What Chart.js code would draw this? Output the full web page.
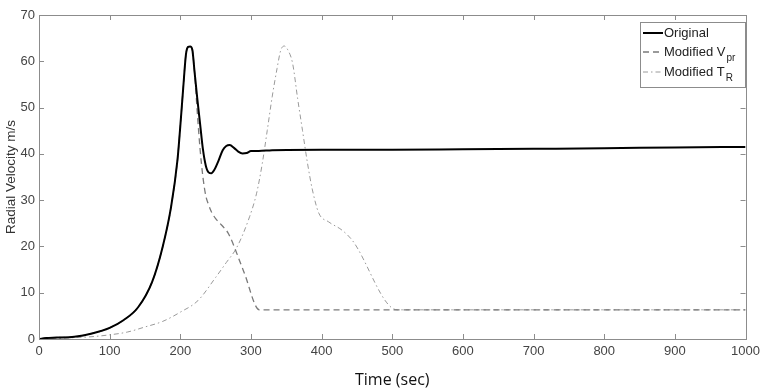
<!DOCTYPE html>
<html>
<head>
<meta charset="utf-8">
<script src="https://cdn.jsdelivr.net/npm/chart.js@4.4.1/dist/chart.umd.min.js"></script>
<style>
  body { margin: 0; background: #fff; }
</style>
</head>
<body>
<canvas id="velocityChart" width="765" height="390"></canvas>
<script>
// Values: time in sec, radial velocity in m/s
var timeOriginal = [0, 10, 25, 50, 75, 100, 120, 140, 160, 175, 187, 196, 200, 204, 208, 211, 214, 217, 220, 224, 228, 232, 236, 240, 244, 248, 254, 260, 265, 270, 276, 282, 288, 294, 300, 311, 330, 400, 500, 600, 700, 800, 900, 1000];
var velOriginal = [0, 0.2, 0.3, 0.5, 1.2, 2.4, 4.1, 6.8, 12.3, 19.9, 28.6, 38.7, 46, 54, 61.5, 63.1, 63.2, 62.5, 58, 52, 46.5, 41, 37.5, 36, 35.8, 36.5, 38.5, 40.8, 41.7, 41.9, 41.3, 40.5, 40.1, 40.2, 40.6, 40.6, 40.8, 40.9, 40.9, 41, 41.1, 41.2, 41.4, 41.5];

var timeModVpr = [0, 10, 25, 50, 75, 100, 120, 140, 160, 175, 187, 196, 200, 204, 208, 211, 214, 217, 220, 224, 228, 232, 236, 240, 244, 250, 256, 262, 268, 290, 312, 400, 500, 600, 700, 800, 900, 1000];
var velModVpr = [0, 0.2, 0.3, 0.5, 1.2, 2.4, 4.1, 6.8, 12.3, 19.9, 28.6, 38.7, 46, 54, 61.5, 63.1, 63.2, 62.5, 58, 49, 41, 35, 31, 29, 27.5, 26, 25, 24, 22.8, 14.5, 6.3, 6.3, 6.3, 6.3, 6.3, 6.3, 6.3, 6.3];

var timeModTr = [0, 25, 50, 75, 100, 125, 150, 175, 200, 225, 250, 265, 280, 298, 308, 316, 323, 330, 337, 342, 347, 352, 359, 366, 373, 380, 387, 396, 410, 429, 443, 507, 600, 700, 800, 900, 1000];
var velModTr = [0, 0.1, 0.3, 0.5, 0.9, 1.5, 2.6, 3.8, 5.8, 8.3, 13.3, 16.5, 19.8, 26.4, 31.5, 37.9, 45, 52.3, 58.5, 62.3, 63.3, 62.5, 59.5, 52, 45, 38, 32.2, 27.2, 25.3, 23.5, 21.4, 6.3, 6.3, 6.3, 6.3, 6.3, 6.3];

var xTickValues = [0, 100, 200, 300, 400, 500, 600, 700, 800, 900, 1000];
var yTickValues = [0, 10, 20, 30, 40, 50, 60, 70];

var seriesNames = ['Original', 'Modified V', 'Modified T'];
var seriesSubs = ['', 'pr', 'R'];

function toPoints(times, values) {
    return times.map(function (t, i) { return { x: t, y: values[i] }; });
}

Chart.defaults.font.family = '"Liberation Sans", Arial, sans-serif';
Chart.defaults.font.size = 13;
Chart.defaults.color = '#444';

// MATLAB style box with inward ticks, plus a legend that can show subscripts
var matlabFrame = {
    id: 'matlabFrame',
    afterDatasetsDraw: function (chart) {
        var ctx = chart.ctx;
        var area = chart.chartArea;
        var xs = chart.scales.x;
        var ys = chart.scales.y;
        var tick = 5;
        ctx.save();
        ctx.strokeStyle = '#8c8c8c';
        ctx.lineWidth = 1;
        ctx.strokeRect(Math.round(area.left) + 0.5, Math.round(area.top) + 0.5,
            Math.round(area.right - area.left), Math.round(area.bottom - area.top));
        ctx.beginPath();
        xTickValues.forEach(function (v) {
            var px = Math.round(xs.getPixelForValue(v)) + 0.5;
            ctx.moveTo(px, area.bottom); ctx.lineTo(px, area.bottom - tick);
            ctx.moveTo(px, area.top); ctx.lineTo(px, area.top + tick);
        });
        yTickValues.forEach(function (v) {
            var py = Math.round(ys.getPixelForValue(v)) + 0.5;
            ctx.moveTo(area.left, py); ctx.lineTo(area.left + tick, py);
            ctx.moveTo(area.right, py); ctx.lineTo(area.right - tick, py);
        });
        ctx.stroke();

        // legend box
        var bx = 640.5, by = 22.5, bw = 105, bh = 65;
        ctx.fillStyle = '#fff';
        ctx.fillRect(bx, by, bw, bh);
        ctx.strokeStyle = '#8c8c8c';
        ctx.strokeRect(bx, by, bw, bh);
        var rows = [33, 52, 72];
        chart.data.datasets.forEach(function (ds, i) {
            var y = rows[i];
            ctx.beginPath();
            ctx.setLineDash(ds.borderDash || []);
            ctx.strokeStyle = ds.borderColor;
            ctx.lineWidth = ds.borderWidth;
            ctx.moveTo(643, y); ctx.lineTo(663, y);
            ctx.stroke();
            ctx.setLineDash([]);
            ctx.fillStyle = '#222';
            ctx.font = '13px "Liberation Sans", Arial, sans-serif';
            ctx.textBaseline = 'middle';
            ctx.textAlign = 'left';
            ctx.fillText(seriesNames[i], 664, y);
            if (seriesSubs[i]) {
                var w = ctx.measureText(seriesNames[i]).width;
                ctx.font = '10px "Liberation Sans", Arial, sans-serif';
                ctx.fillText(seriesSubs[i], 664 + w + 1, y + 6);
            }
        });
        ctx.restore();
    }
};

var ctx = document.getElementById('velocityChart').getContext('2d');
new Chart(ctx, {
    type: 'line',
    data: {
        datasets: [{
            label: 'Original',
            data: toPoints(timeOriginal, velOriginal),
            borderColor: '#000',
            borderWidth: 2,
            borderDash: [],
            pointRadius: 0,
            cubicInterpolationMode: 'monotone'
        }, {
            label: 'Modified Vpr',
            data: toPoints(timeModVpr, velModVpr),
            borderColor: '#7a7a7a',
            borderWidth: 1.3,
            borderDash: [6, 4],
            pointRadius: 0,
            cubicInterpolationMode: 'monotone'
        }, {
            label: 'Modified TR',
            data: toPoints(timeModTr, velModTr),
            borderColor: '#9a9a9a',
            borderWidth: 1,
            borderDash: [5, 3, 1.5, 3],
            pointRadius: 0,
            cubicInterpolationMode: 'monotone'
        }]
    },
    options: {
        responsive: false,
        animation: false,
        layout: { padding: { top: 15, right: 17, left: 0, bottom: 0 } },
        plugins: {
            legend: { display: false },
            tooltip: { enabled: false }
        },
        scales: {
            x: {
                type: 'linear',
                min: 0,
                max: 1000,
                afterBuildTicks: function (scale) {
                    scale.ticks = xTickValues.map(function (v) { return { value: v }; });
                },
                afterFit: function (scale) { scale.height = 51; },
                grid: { display: false, drawTicks: false },
                border: { display: false },
                ticks: {
                    padding: 5,
                    maxRotation: 0,
                    color: '#444',
                    callback: function (v) { return String(v); }
                },
                title: {
                    display: true,
                    text: 'Time (sec)',
                    color: '#111',
                    font: { family: '"Open Sans", sans-serif', size: 16 },
                    padding: { top: 0, bottom: 0 }
                }
            },
            y: {
                min: 0,
                max: 70,
                afterBuildTicks: function (scale) {
                    scale.ticks = yTickValues.map(function (v) { return { value: v }; });
                },
                afterFit: function (scale) { scale.width = 39; },
                grid: { display: false, drawTicks: false },
                border: { display: false },
                ticks: { padding: 4, color: '#444' },
                title: {
                    display: true,
                    text: 'Radial Velocity m/s',
                    color: '#333',
                    font: { size: 13.5 },
                    padding: { top: 3, bottom: 0 }
                }
            }
        }
    },
    plugins: [matlabFrame]
});
</script>
</body>
</html>
